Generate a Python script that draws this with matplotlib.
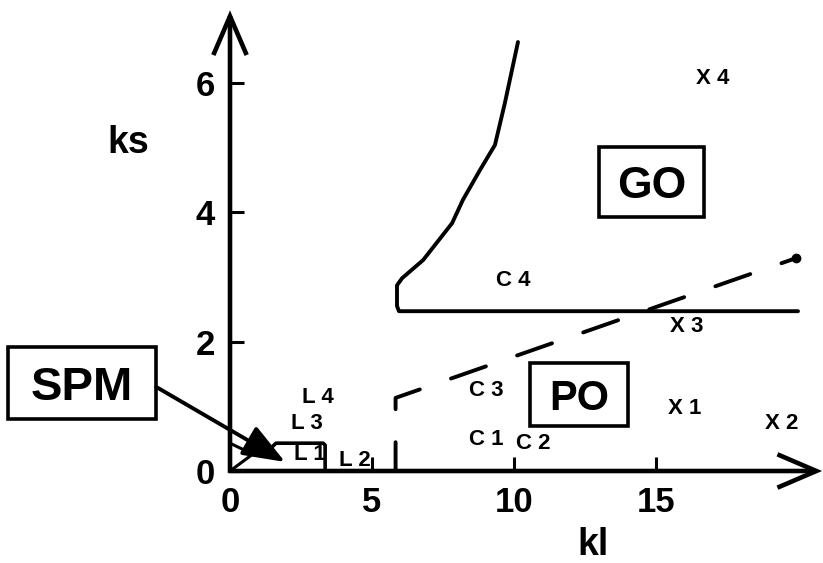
import matplotlib
matplotlib.use('Agg')
import matplotlib.pyplot as plt
from matplotlib.patches import Rectangle

plt.rcParams['font.family'] = ['Liberation Sans', 'DejaVu Sans']
plt.rcParams['font.weight'] = 'bold'

# axis ticks
kl_ticks = [0, 5, 10, 15]
ks_ticks = [0, 2, 4, 6]

# GO boundary (solid): horizontal floor + rising curve
go_kl = [20.0, 5.95, 5.88, 5.88, 6.06, 6.80, 7.82, 8.20, 8.80, 9.33, 9.68, 10.14]
go_ks = [2.47, 2.47, 2.55, 2.87, 2.98, 3.26, 3.83, 4.19, 4.65, 5.04, 5.69, 6.63]

# PO boundary (dashed)
po_kl = [5.83, 5.83, 19.93]
po_ks = [0.0, 1.13, 3.29]

# L1 box outline and SPM wedge near the origin
l1_kl = [1.50, 1.62, 3.28, 3.35, 3.35]
l1_ks = [0.38, 0.43, 0.43, 0.40, 0.0]
spm_kl = [0.0, 0.80, 0.0]
spm_ks = [0.43, 0.26, 0.0]

# point labels
pt_names = ['X 4', 'C 4', 'X 3', 'C 3', 'X 1', 'X 2', 'C 1', 'C 2', 'L 4', 'L 3', 'L 1', 'L 2']
pt_kl = [17.0, 9.96, 16.09, 9.01, 16.02, 19.44, 9.01, 10.67, 3.10, 2.71, 2.82, 4.40]
pt_ks = [6.06, 2.95, 2.23, 1.25, 0.97, 0.74, 0.48, 0.42, 1.13, 0.74, 0.25, 0.17]

# region boxes: name, left, bottom, width, height
regions = [('GO', 12.99, 3.93, 3.70, 1.08),
           ('PO', 10.56, 0.70, 3.45, 0.97),
           ('SPM', -7.82, 0.80, 5.21, 1.12)]
region_size = {'GO': 32, 'PO': 30, 'SPM': 34}

fig = plt.figure(figsize=(8.23, 5.63), dpi=100)
ax = fig.add_axes([230 / 823, 92 / 563, 593 / 823, 471 / 563])
ax.set_xlim(0, 593 / 28.4)
ax.set_ylim(0, 471 / 64.7)
for s in ax.spines.values():
    s.set_visible(False)

ax.set_xticks(kl_ticks)
ax.set_xticklabels([str(t) for t in kl_ticks])
ax.set_yticks(ks_ticks)
ax.set_yticklabels([str(t) for t in ks_ticks])
ax.tick_params(direction='in', length=10, width=2.2, labelsize=25)
ax.tick_params(axis='x', pad=11)
ax.tick_params(axis='y', pad=11)

# axes as arrows
arrow_kw = dict(arrowstyle='->,head_length=28,head_width=12', lw=3.3,
                color='black', mutation_scale=1, shrinkA=0, shrinkB=0,
                joinstyle='miter', capstyle='butt')
ax.annotate('', xy=(0, 7.12), xytext=(0, -0.03), arrowprops=arrow_kw,
            annotation_clip=False)
ax.annotate('', xy=(20.85, 0), xytext=(-0.05, 0), arrowprops=arrow_kw,
            annotation_clip=False)

ax.plot(go_kl, go_ks, color='black', lw=2.8, solid_joinstyle='round',
        solid_capstyle='round', clip_on=False)

ax.plot(po_kl, po_ks, color='black', lw=2.8, linestyle=(2.1, (9.5, 8.5)),
        dash_capstyle='round', clip_on=False)
ax.plot(po_kl[-1], po_ks[-1], 'o', color='black', ms=6, clip_on=False)

ax.plot(l1_kl, l1_ks, color='black', lw=2.6, solid_joinstyle='round',
        clip_on=False)
ax.plot(spm_kl, spm_ks, color='black', lw=2.2, clip_on=False)

for name, x, y in zip(pt_names, pt_kl, pt_ks):
    ax.text(x, y, name, fontsize=16, ha='center', va='center',
            fontweight='bold')

for name, x0, y0, w, h in regions:
    ax.add_patch(Rectangle((x0, y0), w, h, fill=False, lw=2.6,
                           edgecolor='black', clip_on=False))
    ax.text(x0 + w / 2, y0 + h / 2, name, fontsize=region_size[name],
            ha='center', va='center_baseline', fontweight='bold',
            clip_on=False)

# SPM pointer
ax.annotate('', xy=(1.94, 0.14), xytext=(-2.6, 1.30),
            arrowprops=dict(arrowstyle='-|>,head_length=26,head_width=10',
                            mutation_scale=1, lw=2.8, color='black',
                            shrinkA=0, shrinkB=0),
            annotation_clip=False)

ax.text(-3.59, 5.07, 'ks', fontsize=27, ha='center', va='center',
        fontweight='bold')
ax.text(12.78, -1.30, 'kl', fontsize=27, ha='center', va='baseline',
        fontweight='bold')

fig.savefig('out.png', dpi=100)
